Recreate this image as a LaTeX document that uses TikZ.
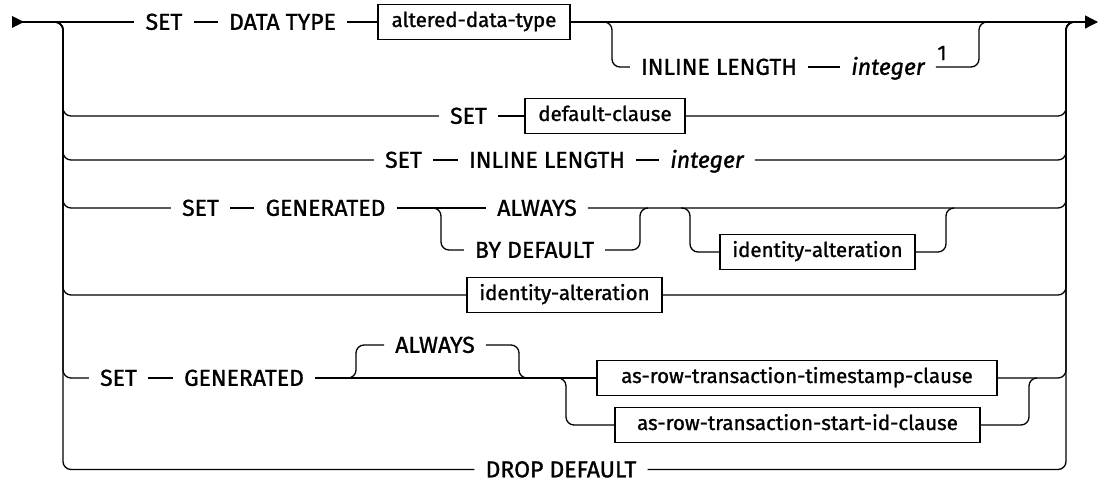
\documentclass[tikz,border=0pt]{standalone}
\usepackage{fontspec}
\setmainfont{Fira Sans}
\newfontfamily\railfont[FakeBold=1.2]{Fira Sans}
\usetikzlibrary{arrows.meta}
\tikzset{
  rail/.style={line width=1.3pt, rounded corners=8pt},
  kw/.style={font=\railfont\fontsize{23}{27}\selectfont, inner xsep=11pt, inner ysep=0pt,
    text height=15.6pt, text depth=0pt},
  ntbox/.style={draw, line width=1.3pt, font=\railfont\fontsize{20.5}{24}\selectfont, inner xsep=9pt,
    text height=14pt, text depth=4pt, minimum height=35pt},
}
\begin{document}
\begin{tikzpicture}[x=1pt, y=-1pt]
  \useasboundingbox (0,0) rectangle (1098,481);
  % bus ends
  \coordinate (start) at (12,22);
  \coordinate (lsplit) at (53,22);
  \coordinate (lbus) at (63,22);
  \coordinate (rbus) at (1066,22);
  \coordinate (rjoin) at (1076,22);
  \coordinate (end) at (1098,22);

  % row 1
  \node[kw] (set1) at (164,22) {SET};
  \node[kw] (dtype) at (282.5,22) {DATA TYPE};
  \node[ntbox, minimum width=192pt] (alt) at (474,22) {altered-data-type};
  \node[kw] (inl1) at (719,67) {INLINE LENGTH};
  \node[kw, font=\railfont\fontsize{23}{27}\selectfont\itshape] (int1) at (888,67) {integer};
  \node[font=\railfont\fontsize{21}{24}\selectfont, inner sep=0pt] (fn1) at (942,53) {1};
  \coordinate (s1) at (602,22); \coordinate (b1) at (612,67);
  \coordinate (m1) at (979,22); \coordinate (j1) at (988,22);

  % row 2, 3
  \node[kw] (set2) at (468.5,116) {SET};
  \node[ntbox, minimum width=160pt] (defc) at (605,116) {default-clause};
  \node[kw] (set3) at (403.5,160) {SET};
  \node[kw] (inl3) at (547,160) {INLINE LENGTH};
  \node[kw, font=\railfont\fontsize{23}{27}\selectfont\itshape] (int3) at (707,160) {integer};

  % row 4
  \node[kw] (set4) at (200.5,208) {SET};
  \node[kw] (gen4) at (325.5,208) {GENERATED};
  \node[kw] (alw4) at (537,208) {ALWAYS};
  \node[kw] (byd4) at (534.5,250) {BY DEFAULT};
  \node[ntbox, minimum width=195pt] (idal4) at (817.5,252) {identity-alteration};
  \coordinate (s4a) at (435,208); \coordinate (b4a) at (441,250);
  \coordinate (m4a) at (640,208); \coordinate (j4a) at (648,208);
  \coordinate (s4b) at (681,208); \coordinate (b4b) at (690,252);
  \coordinate (m4b) at (946,208); \coordinate (j4b) at (953,208);

  % row 5
  \node[ntbox, minimum width=195pt] (idal5) at (564.5,295) {identity-alteration};

  % row 6
  \node[kw] (set6) at (118.5,378) {SET};
  \node[kw] (gen6) at (244,378) {GENERATED};
  \node[kw] (alw6) at (435,345) {ALWAYS};
  \node[ntbox, minimum width=400pt] (ts) at (797,378) {as-row-transaction-timestamp-clause};
  \node[ntbox, minimum width=365pt] (sid) at (797.5,425) {as-row-transaction-start-id-clause};
  \coordinate (s6a) at (347,378); \coordinate (b6a) at (356,345);
  \coordinate (m6a) at (519,378); \coordinate (j6a) at (526,378);
  \coordinate (s6b) at (560,378); \coordinate (b6b) at (566,425);
  \coordinate (m6b) at (1029,378); \coordinate (j6b) at (1037,378);

  % row 7
  \node[kw] (drop) at (561,469.5) {DROP DEFAULT};

  % start and end of the main line
  \fill (start) ++(0,-6) -- ++(12,6) -- ++(-12,6) -- cycle;
  \draw[rail] (start) -- (set1.west);
  \draw[rail] (set1) -- (dtype) -- (alt);
  \draw[rail, -{Triangle[length=13pt, width=13pt]}] (alt.east) -- (end);

  % left and right buses
  \foreach \n in {set2,set3,set4,idal5,set6,drop}
    \draw[rail] (lsplit) -- (lbus) |- (\n.west);
  \foreach \n in {defc,int3,alw4,idal5,ts,drop}
    \draw[rail] (\n.east) -| (rbus) -- (rjoin);

  % branches
  \draw[rail] (s1) -| (b1) -- (inl1.west);
  \draw[rail] (inl1) -- (int1);
  \draw[rail] (int1.east) -| (m1) -- (j1);
  \draw[rail] (set2) -- (defc);
  \draw[rail] (set3) -- (inl3) -- (int3);
  \draw[rail] (set4) -- (gen4) -- (alw4);
  \draw[rail] (s4a) -| (b4a) -- (byd4.west);
  \draw[rail] (byd4.east) -| (m4a) -- (j4a);
  \draw[rail] (s4b) -| (b4b) -- (idal4.west);
  \draw[rail] (idal4.east) -| (m4b) -- (j4b);
  \draw[rail] (set6) -- (gen6) -- (ts);
  \draw[rail] (s6a) -| (b6a) -- (alw6.west);
  \draw[rail] (alw6.east) -| (m6a) -- (j6a);
  \draw[rail] (s6b) -| (b6b) -- (sid.west);
  \draw[rail] (sid.east) -| (m6b) -- (j6b);
\end{tikzpicture}
\end{document}
